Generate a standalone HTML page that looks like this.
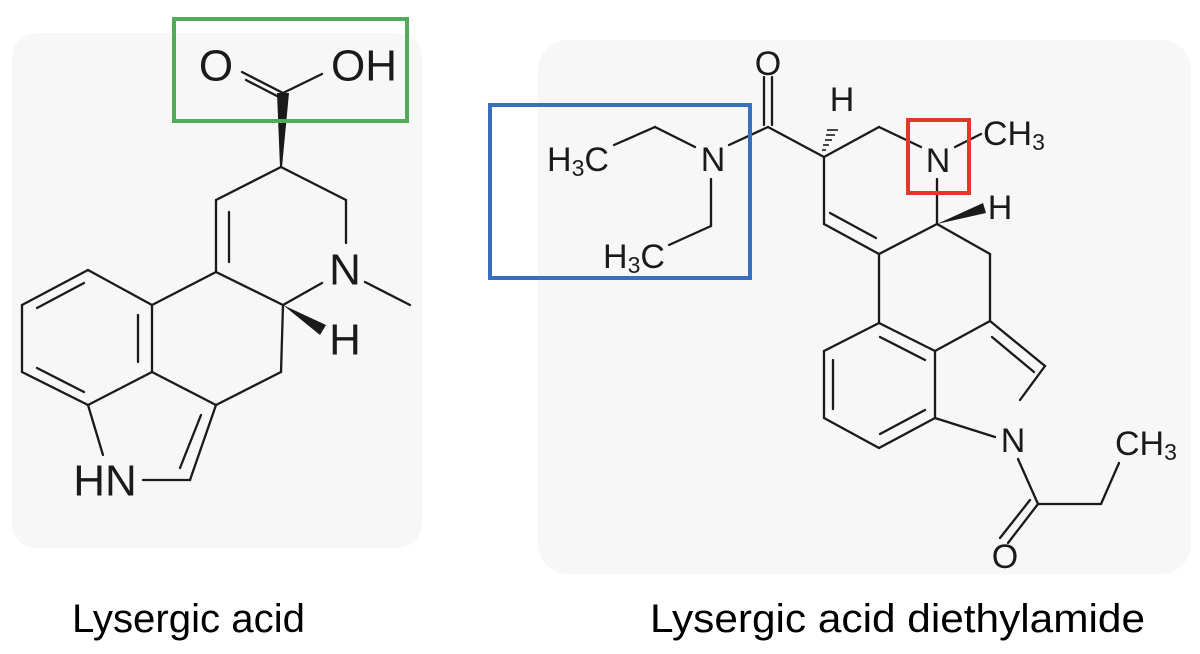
<!DOCTYPE html>
<html><head><meta charset="utf-8"><style>html,body{margin:0;padding:0;background:#fff}svg{display:block}</style></head>
<body>
<svg width="1200" height="654" viewBox="0 0 1200 654" xmlns="http://www.w3.org/2000/svg">
<rect x="12" y="33" width="410" height="515" rx="24" fill="#f7f7f7"/>
<rect x="538" y="40" width="653" height="534" rx="30" fill="#f7f7f7"/>
<g stroke="#1a1a1a" stroke-width="2.3" fill="none" stroke-linecap="round">
<!-- left molecule -->
<line x1="242" y1="72" x2="283" y2="93"/><line x1="246" y1="80" x2="277" y2="96"/>
<line x1="283" y1="93" x2="322" y2="74"/>
<line x1="281" y1="167" x2="216" y2="200"/><line x1="281" y1="167" x2="346" y2="200"/>
<line x1="346" y1="200" x2="346" y2="243"/>
<line x1="365" y1="282" x2="410" y2="305"/>
<line x1="216" y1="200" x2="216" y2="272"/><line x1="229" y1="212" x2="229" y2="262"/>
<line x1="216" y1="272" x2="283" y2="305"/><line x1="283" y1="305" x2="322" y2="283"/>
<line x1="216" y1="272" x2="152" y2="305"/>
<line x1="152" y1="305" x2="88" y2="270"/><line x1="88" y1="270" x2="22" y2="305"/><line x1="22" y1="305" x2="22" y2="372"/>
<line x1="22" y1="372" x2="88" y2="405"/><line x1="88" y1="405" x2="152" y2="372"/><line x1="152" y1="372" x2="152" y2="305"/>
<line x1="84" y1="283" x2="37" y2="308"/><line x1="37" y1="368" x2="84" y2="392"/><line x1="138" y1="315" x2="138" y2="362"/>
<line x1="152" y1="372" x2="216" y2="405"/><line x1="216" y1="405" x2="281" y2="372"/><line x1="281" y1="372" x2="283" y2="305"/>
<line x1="216" y1="405" x2="190" y2="480"/><line x1="201" y1="415" x2="180" y2="468"/>
<line x1="190" y1="480" x2="143" y2="480"/><line x1="88" y1="405" x2="103" y2="455"/>
<!-- right molecule -->
<line x1="764" y1="77" x2="764" y2="125"/><line x1="772" y1="77" x2="772" y2="125"/>
<line x1="768" y1="127" x2="729" y2="145"/><line x1="695" y1="147" x2="655" y2="127"/><line x1="655" y1="127" x2="614" y2="145"/>
<line x1="711" y1="179" x2="711" y2="226"/><line x1="711" y1="226" x2="669" y2="245"/>
<line x1="768" y1="127" x2="824" y2="157"/>
<line x1="824" y1="157" x2="879" y2="127"/><line x1="879" y1="127" x2="921" y2="147"/>
<line x1="955" y1="147" x2="981" y2="134"/>
<line x1="937" y1="179" x2="937" y2="224"/>
<line x1="824" y1="157" x2="824" y2="224"/><line x1="824" y1="224" x2="879" y2="254"/><line x1="830" y1="213" x2="876" y2="238"/>
<line x1="879" y1="254" x2="937" y2="224"/><line x1="937" y1="224" x2="990" y2="254"/><line x1="990" y1="254" x2="990" y2="321"/>
<line x1="879" y1="254" x2="879" y2="323"/>
<line x1="879" y1="323" x2="935" y2="351"/><line x1="935" y1="351" x2="935" y2="418"/><line x1="935" y1="418" x2="879" y2="448"/>
<line x1="879" y1="448" x2="824" y2="418"/><line x1="824" y1="418" x2="824" y2="351"/><line x1="824" y1="351" x2="879" y2="323"/>
<line x1="880" y1="337" x2="925" y2="360"/><line x1="833" y1="360" x2="833" y2="409"/><line x1="880" y1="434" x2="925" y2="410"/>
<line x1="935" y1="351" x2="990" y2="321"/><line x1="990" y1="321" x2="1045" y2="366"/><line x1="992" y1="337" x2="1034" y2="372"/>
<line x1="1045" y1="366" x2="1020" y2="400"/><line x1="935" y1="418" x2="995" y2="437"/>
<line x1="1018" y1="459" x2="1038" y2="504"/><line x1="1038" y1="504" x2="1101" y2="504"/><line x1="1101" y1="504" x2="1119" y2="463"/>
<line x1="1038" y1="504" x2="1008" y2="543"/><line x1="1030" y1="500" x2="1000" y2="538"/>
</g>
<g fill="#1a1a1a">
<polygon points="277,93 289,93 282,167 280,167"/>
<polygon points="283,305 326,325 320,335"/>
<polygon points="937,224 983,203 986,213"/>
</g>
<g stroke="#1a1a1a" stroke-width="1.6">
<line x1="826" y1="150" x2="822" y2="150"/><line x1="829" y1="145" x2="823" y2="145"/><line x1="832" y1="140" x2="825" y2="140"/><line x1="835" y1="135" x2="826" y2="135"/><line x1="838" y1="130" x2="827" y2="130"/>
</g>
<g font-family="Liberation Sans, sans-serif" fill="#1a1a1a" text-anchor="middle" dominant-baseline="central">
<text x="216" y="66" font-size="44">O</text>
<text x="364" y="66" font-size="44">OH</text>
<text x="345" y="270" font-size="44">N</text>
<text x="345" y="340" font-size="44">H</text>
<text x="105" y="481" font-size="44">HN</text>
<g font-size="34">
<text x="768" y="64">O</text>
<text x="713" y="160">N</text>
<text x="842" y="100">H</text>
<text x="938" y="161">N</text>
<text x="1000" y="208">H</text>
<text x="1013" y="441">N</text>
<text x="1005" y="557">O</text>
<text x="578" y="160" text-anchor="middle">H<tspan font-size="23" dy="8">3</tspan><tspan dy="-8">C</tspan></text>
<text x="634" y="257" text-anchor="middle">H<tspan font-size="23" dy="8">3</tspan><tspan dy="-8">C</tspan></text>
<text x="983" y="134" text-anchor="start">CH<tspan font-size="23" dy="8">3</tspan></text>
<text x="1115" y="444" text-anchor="start">CH<tspan font-size="23" dy="8">3</tspan></text>
</g>
</g>
<rect x="174" y="19" width="233" height="102" fill="none" stroke="#52ab5a" stroke-width="4"/>
<rect x="490" y="105" width="260" height="173" fill="none" stroke="#3a6fbf" stroke-width="4"/>
<rect x="908" y="120" width="61" height="73" fill="none" stroke="#e0382a" stroke-width="4"/>
<g font-family="Liberation Sans, sans-serif" font-size="40" fill="#000">
<text x="72" y="632" textLength="233" lengthAdjust="spacingAndGlyphs">Lysergic acid</text>
<text x="650" y="632" textLength="495" lengthAdjust="spacingAndGlyphs">Lysergic acid diethylamide</text>
</g>
</svg>
</body></html>
